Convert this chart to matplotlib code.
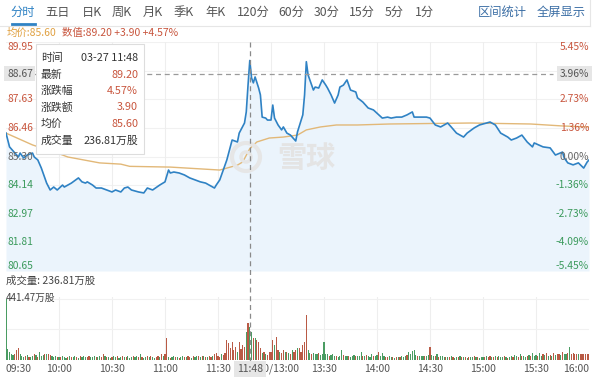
import matplotlib
matplotlib.use('Agg')
import matplotlib.pyplot as plt
from matplotlib.patches import Circle, Rectangle
from matplotlib.lines import Line2D
from matplotlib.transforms import Affine2D, blended_transform_factory

# --- data ---
tabs = ['分时', '五日', '日K', '周K', '月K', '季K', '年K', '120分', '60分', '30分', '15分', '5分', '1分']
tab_x = [23, 58, 92, 122, 153, 184, 216, 253, 291, 327, 362, 394, 424]

prev_close = 85.30
price_ticks = [89.95, 88.79, 87.63, 86.46, 85.30, 84.14, 82.97, 81.81, 80.65]
pct_labels = ['5.45%', '4.09%', '2.73%', '1.36%', '0.00%', '-1.36%', '-2.73%', '-4.09%', '-5.45%']

time_labels = ['09:30', '10:00', '10:30', '11:00', '11:30', '12:00/13:00', '13:30', '14:00', '14:30', '15:00', '15:30', '16:00']
time_pos = [0, 30, 60, 90, 120, 150, 180, 210, 240, 270, 300, 330]

# minute index (0 = 09:30, 150 = 12:00/13:00, 330 = 16:00) and price
price_min = [0, 2, 5, 7, 8, 10, 12, 15, 16, 18, 20, 21, 23, 25, 27, 29, 32, 33, 35, 37,
             41, 43, 45, 46, 49, 51, 54, 57, 60, 62, 65, 67, 69, 71, 75, 78, 80, 83, 87, 90,
             92, 93, 95, 98, 101, 104, 107, 110, 113, 115, 118, 119, 121, 123, 125, 127, 128, 131, 132, 135,
             136, 137, 138, 139, 140, 141, 143, 144, 145, 147, 148, 150, 151, 152, 154, 156, 157, 159, 161, 164,
             165, 168, 169, 170, 171, 174, 175, 177, 179, 181, 182, 184, 186, 188, 189, 191, 193, 195, 198, 199,
             202, 205, 208, 211, 213, 216, 218, 221, 224, 227, 230, 231, 234, 238, 240, 243, 246, 250, 252, 255,
             259, 261, 265, 268, 274, 277, 280, 284, 286, 289, 292, 295, 298, 299, 304, 308, 311, 315, 316, 318,
             321, 324, 327, 329, 330]
price_val = [86.25, 85.69, 85.44, 85.28, 85.44, 85.24, 85.36, 85.44, 85.28, 85.16, 84.83, 84.63, 84.22, 83.94, 84.06, 83.94, 84.14, 84.06, 84.14, 84.22,
             84.43, 84.27, 84.22, 84.27, 84.14, 84.02, 84.02, 83.94, 83.86, 83.94, 83.86, 84.02, 84.06, 83.94, 83.86, 83.82, 84.02, 83.94, 84.14, 84.27,
             84.75, 84.63, 84.67, 84.63, 84.55, 84.43, 84.35, 84.27, 84.22, 84.14, 84.02, 84.14, 84.35, 84.75, 85.16, 85.69, 85.97, 85.89, 86.25, 86.66,
             87.11, 88.20, 89.20, 88.49, 88.29, 88.53, 88.08, 87.80, 86.90, 86.86, 86.78, 86.78, 87.39, 86.86, 86.58, 86.38, 86.50, 86.25, 86.17, 85.93,
             86.30, 86.99, 87.80, 89.15, 88.61, 88.00, 88.12, 88.08, 88.41, 88.20, 88.08, 87.80, 87.47, 87.80, 88.12, 88.20, 88.41, 88.00, 87.92, 87.68,
             87.51, 87.27, 87.19, 86.99, 86.86, 86.90, 86.86, 86.90, 86.90, 86.99, 87.11, 86.90, 86.90, 86.90, 86.86, 86.58, 86.50, 86.66, 86.50, 86.25,
             86.09, 86.25, 86.46, 86.58, 86.70, 86.58, 86.25, 86.09, 85.97, 86.05, 86.17, 85.89, 85.69, 85.85, 85.69, 85.65, 85.36, 85.48, 85.24, 85.04,
             84.96, 85.04, 84.83, 85.08, 85.16]

avg_min = [0, 15, 29, 35, 53, 65, 70, 93, 121, 131, 134, 138, 142, 149, 157, 165, 170, 178, 187, 199, 217, 263, 297, 315, 330]
avg_val = [86.25, 85.77, 85.44, 85.28, 85.04, 84.99, 84.90, 84.87, 84.75, 84.95, 85.08, 85.62, 85.89, 86.05, 86.09, 86.17, 86.38, 86.50, 86.58, 86.58,
           86.62, 86.66, 86.62, 86.54, 86.50]

# volume per minute, 万股
volume = [441.47, 77, 60, 45, 35, 40, 75, 90, 40, 30,
          25, 30, 35, 20, 25, 30, 40, 35, 25, 55,
          30, 35, 45, 40, 45, 35, 30, 25, 30, 20,
          25, 20, 30, 22, 18, 25, 28, 20, 24, 30,
          22, 18, 26, 20, 30, 24, 19, 27, 22, 25,
          28, 20, 24, 30, 22, 45, 26, 20, 24, 18,
          22, 26, 20, 28, 18, 24, 30, 22, 20, 26,
          18, 24, 28, 20, 26, 22, 40, 24, 18, 22,
          26, 20, 30, 22, 18, 25, 28, 22, 40, 30,
          45, 157, 25, 18, 22, 26, 20, 24, 18, 22,
          28, 20, 24, 30, 22, 18, 26, 24, 30, 28,
          22, 30, 26, 20, 24, 28, 22, 26, 40, 50,
          30, 25, 40, 35, 50, 145, 120, 85, 133, 72,
          96, 60, 133, 80, 108, 96, 205, 265, 237, 200,
          157, 157, 145, 133, 84, 50, 60, 40, 35, 60,
          60, 145, 108, 169, 72, 60, 50, 72, 55, 60,
          48, 45, 72, 55, 72, 84, 84, 60, 108, 132,
          325, 72, 50, 40, 50, 45, 45, 50, 35, 40,
          132, 45, 40, 30, 35, 40, 28, 32, 25, 30,
          72, 35, 30, 28, 32, 25, 30, 35, 28, 26,
          30, 60, 32, 28, 35, 30, 25, 40, 28, 30,
          35, 60, 30, 50, 28, 25, 22, 30, 25, 20,
          18, 22, 25, 20, 28, 22, 26, 35, 60, 40,
          65, 72, 35, 28, 30, 32, 26, 30, 28, 35,
          96, 35, 28, 30, 40, 25, 30, 28, 22, 25,
          20, 22, 30, 25, 18, 20, 22, 28, 20, 24,
          22, 18, 25, 20, 22, 28, 20, 24, 18, 22,
          25, 20, 30, 22, 28, 20, 25, 30, 22, 26,
          20, 24, 30, 22, 18, 25, 28, 22, 35, 30,
          25, 40, 28, 32, 25, 30, 35, 28, 48, 30,
          35, 28, 53, 30, 40, 35, 53, 30, 38, 32,
          48, 35, 40, 45, 38, 60, 42, 45, 50, 96,
          45, 50, 45, 40, 45, 45, 40, 45, 40, 45, 40]
vol_dir = ('gggggrrrgg' 'grgrggrgrg' 'ggrgrrgggr' 'grgggrgrgg' 'rgrgggrrgg' 'grggrrgrgg'
           'rggrggrgrg' 'ggrggrgrgg' 'rgrggrrgrg' 'rrgrggrgrg' 'grgrrgrggr' 'grgrgrrgrr'
           'rrgrrrrrrr' 'rgrrrrgrgg' 'rgrrrgrgrr' 'rrgrrgrrgr' 'grgrrgrrrr' 'rggrgggrgg'
           'gggrgggrgg' 'grggrgggrg' 'ggrgrgggrg' 'grgggrrggr' 'grgrgggrgg' 'gggrgggrgg'
           'rggrgrgggr' 'grgrggrgrg' 'rgrggrgrgg' 'grgrrgrgrg' 'ggrgrggrgg' 'rgrggrgrgg'
           'grggrgrgrg' 'rgrrgrggrg' 'rrrrgrrrrrr')

cross_min = 138
cross_price = 88.67
cross_pct = '3.96%'
cross_time = '11:48'
info_keys = ['时间', '最新', '涨跌幅', '涨跌额', '均价', '成交量']
info_vals = ['03-27 11:48', '89.20', '4.57%', '3.90', '85.60', '236.81万股']
avg_now = '85.60'
head_vals = '数值:89.20 +3.90 +4.57%'
vol_now = '236.81万股'

# --- styling ---
plt.rcParams['font.family'] = ['Noto Sans CJK SC', 'DejaVu Sans']
RED = '#c8553d'
GREEN = '#3b9a5c'
BLUE = '#2f82c4'
GREYTXT = '#555555'

W, H = 600, 379
fig = plt.figure(figsize=(W / 100, H / 100), dpi=100)
fig.patch.set_facecolor('white')
px = Affine2D().scale(1 / W, -1 / H).translate(0, 1) + fig.transFigure

L, R = 6, 589
ax = fig.add_axes([L / W, 1 - 271 / H, (R - L) / W, (271 - 42) / H])
axv = fig.add_axes([L / W, 1 - 360 / H, (R - L) / W, (360 - 297) / H])
for a in (ax, axv):
    a.set_xlim(0, 330)
    a.set_axis_off()
ax.set_ylim(price_ticks[-1], price_ticks[0])
axv.set_ylim(0, max(volume) * 1.03)

# grid
for t in price_ticks:
    ax.axhline(t, color='#f1f1f1', lw=0.8, zorder=0)
for m in time_pos[1:-1]:
    ax.axvline(m, color='#eeeeee', lw=0.8, zorder=0)
    axv.axvline(m, color='#eeeeee', lw=0.8, zorder=0)
axv.axhline(max(volume), color='#f1f1f1', lw=0.8, zorder=0)
axv.axhline(max(volume) / 2, color='#f1f1f1', lw=0.8, zorder=0)

# price area
ax.fill_between(price_min, price_val, price_ticks[-1], color='#ebf4fc', lw=0, zorder=1)
ax.plot(avg_min, avg_val, color='#e2b878', lw=1.0, zorder=3)
ax.plot(price_min, price_val, color=BLUE, lw=1.2, zorder=4)

# watermark
fig.add_artist(Circle((246, 157), 14, transform=px, fill=False, ec='#e6e6e6', lw=3, zorder=2))
fig.add_artist(Circle((246, 157), 5, transform=px, fill=False, ec='#e6e6e6', lw=2.5, zorder=2))
fig.text(306 / W, 1 - 158 / H, '雪球', fontsize=21, color='#e4e4e4', ha='center', va='center',
         fontweight='bold', zorder=2)

# volume bars
cols = ['#b95a45' if c == 'r' else '#4a9c62' for c in vol_dir]
axv.bar(range(len(volume)), volume, width=0.65, color=cols, zorder=2)

# crosshair
bx = blended_transform_factory(ax.transData, px)
fig.add_artist(Line2D([cross_min, cross_min], [42, 362], transform=bx, color='#8a8a8a',
                      lw=0.9, ls=(0, (4, 3)), zorder=5))
ax.axhline(cross_price, xmin=27 / (R - L), xmax=(553 - L) / (R - L), color='#9a9a9a',
           lw=0.9, ls=(0, (4, 3)), zorder=5)

# y labels
ylab = ax.get_yaxis_transform()
for i, (t, pl) in enumerate(zip(price_ticks, pct_labels)):
    if i == 1:
        continue
    va = 'top' if i == 0 else ('bottom' if i == len(price_ticks) - 1 else 'center')
    if t > prev_close:
        c = RED
    elif t < prev_close:
        c = GREEN
    else:
        c = '#666666'
    ax.text(1 / (R - L), t, f'{t:.2f}', transform=ylab, fontsize=7.4, color=c, ha='left', va=va, zorder=6)
    ax.text(1.0, t, pl, transform=ylab, fontsize=7.4, color=c, ha='right', va=va, zorder=6)
box = dict(boxstyle='square,pad=0.25', fc='#e6e6e6', ec='none')
ax.text(1 / (R - L), cross_price, f'{cross_price:.2f}', transform=ylab, fontsize=7.4, color=GREYTXT,
        ha='left', va='center', bbox=box, zorder=7)
ax.text(1.0, cross_price, cross_pct, transform=ylab, fontsize=7.4, color=GREYTXT,
        ha='right', va='center', bbox=box, zorder=7)

# x labels (the crosshair time box sits on top of the lunch-break label, as in the app)
for m, lab in zip(time_pos, time_labels):
    ha = 'left' if m == time_pos[0] else ('right' if m == time_pos[-1] else 'center')
    fig.text(m, 369, lab, transform=bx, fontsize=7.5, color=GREYTXT, ha=ha, va='center', zorder=3)
fig.text(cross_min, 369, cross_time, transform=bx, fontsize=7.5, color=GREYTXT, ha='center',
         va='center', bbox=dict(boxstyle='square,pad=0.3', fc='#e6e6e6', ec='none'), zorder=8)

# volume header
fig.text(6 / W, 1 - 281 / H, '成交量: ' + vol_now, fontsize=7.5, color='#444444', ha='left', va='center')
fig.text(6 / W, 1 - 298 / H, f'{max(volume):.2f}万股', fontsize=7,
         color='#444444', ha='left', va='center', zorder=6)

# tab bar
for t, x in zip(tabs, tab_x):
    fig.text(x / W, 1 - 12.5 / H, t, fontsize=8.8, color=BLUE if t == '分时' else '#555555',
             ha='center', va='center')
fig.text(502 / W, 1 - 12.5 / H, '区间统计', fontsize=8.8, color='#3b6ea5', ha='center', va='center')
fig.text(561 / W, 1 - 12.5 / H, '全屏显示', fontsize=8.8, color='#3b6ea5', ha='center', va='center')
fig.add_artist(Line2D([0, 590], [25.5, 25.5], transform=px, color='#e6e6e6', lw=0.8))
fig.add_artist(Line2D([590, 590], [0, 25.5], transform=px, color='#e6e6e6', lw=0.8))
fig.add_artist(Line2D([12, 35], [24, 24], transform=px, color=BLUE, lw=2))
fig.text(7 / W, 1 - 33 / H, '均价:' + avg_now, fontsize=7.5, color='#e0a040', ha='left', va='center')
fig.text(62 / W, 1 - 33 / H, head_vals, fontsize=7.5, color=RED, ha='left', va='center')

# info box
fig.add_artist(Rectangle((36, 44), 108, 110, transform=px, fc='white', ec='#dddddd', lw=0.8, zorder=9))
for i, (k, v) in enumerate(zip(info_keys, info_vals)):
    yy = 1 - (58 + 16.5 * i) / H
    c = '#333333' if i in (0, len(info_keys) - 1) else RED
    fig.text(41 / W, yy, k, fontsize=7.8, color='#333333', ha='left', va='center', zorder=10)
    fig.text(138 / W, yy, v, fontsize=7.8, color=c, ha='right', va='center', zorder=10)

fig.savefig('out.png', dpi=100)
